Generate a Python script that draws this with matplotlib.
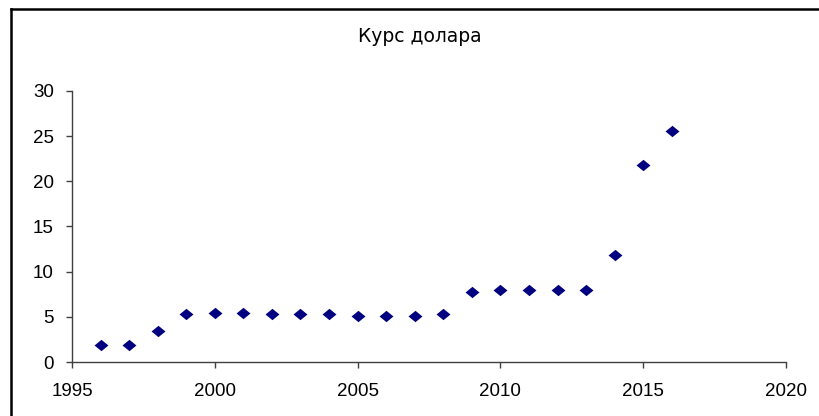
import matplotlib
matplotlib.use("Agg")
import matplotlib.pyplot as plt
from matplotlib.lines import Line2D

plt.rcParams['font.family'] = ['Liberation Sans', 'DejaVu Sans']

# data
years = [1996, 1997, 1998, 1999, 2000, 2001, 2002, 2003, 2004, 2005, 2006,
         2007, 2008, 2009, 2010, 2011, 2012, 2013, 2014, 2015, 2016]
rate = [1.83, 1.83, 3.45, 5.28, 5.44, 5.44, 5.30, 5.30, 5.30, 5.12, 5.12,
        5.12, 5.28, 7.79, 7.94, 7.94, 7.94, 7.94, 11.89, 21.84, 25.55]
title = "Курс долара"
xticks = [1995, 2000, 2005, 2010, 2015, 2020]
yticks = [0, 5, 10, 15, 20, 25, 30]

fig = plt.figure(figsize=(8.19, 4.16), dpi=100)
ax = fig.add_axes([0.0879, 0.1298, 0.9597 - 0.0879, 0.7813 - 0.1298])

# excel-like diamond, a bit wider than tall
diamond = [(-1, 0), (0, 0.82), (1, 0), (0, -0.82), (-1, 0)]
ax.scatter(years, rate, marker=diamond, s=100, color="#000080", linewidths=0)

ax.set_xlim(1995, 2020)
ax.set_ylim(0, 30)
ax.set_xticks(xticks)
ax.set_yticks(yticks)
for side in ["top", "right"]:
    ax.spines[side].set_visible(False)
for side in ["left", "bottom"]:
    ax.spines[side].set_color("#404040")
    ax.spines[side].set_linewidth(1.0)
ax.tick_params(axis="both", direction="out", length=4.5, width=1.0,
               color="#404040", labelsize=13.5, labelcolor="black")
ax.tick_params(axis="y", pad=8.5)
ax.tick_params(axis="x", pad=10.5)

fig.text(0.5125, 0.912, title, ha="center", va="center", fontsize=13.5,
         family=["DejaVu Sans"])

# outer frame (only top and left edges fall inside the image)
fig.add_artist(Line2D([11 / 819, 11 / 819], [0, 1 - 9 / 416],
                      transform=fig.transFigure, color="black", linewidth=1.8))
fig.add_artist(Line2D([11 / 819, 1], [1 - 9 / 416, 1 - 9 / 416],
                      transform=fig.transFigure, color="black", linewidth=1.8))

fig.savefig("out.png", dpi=100)
